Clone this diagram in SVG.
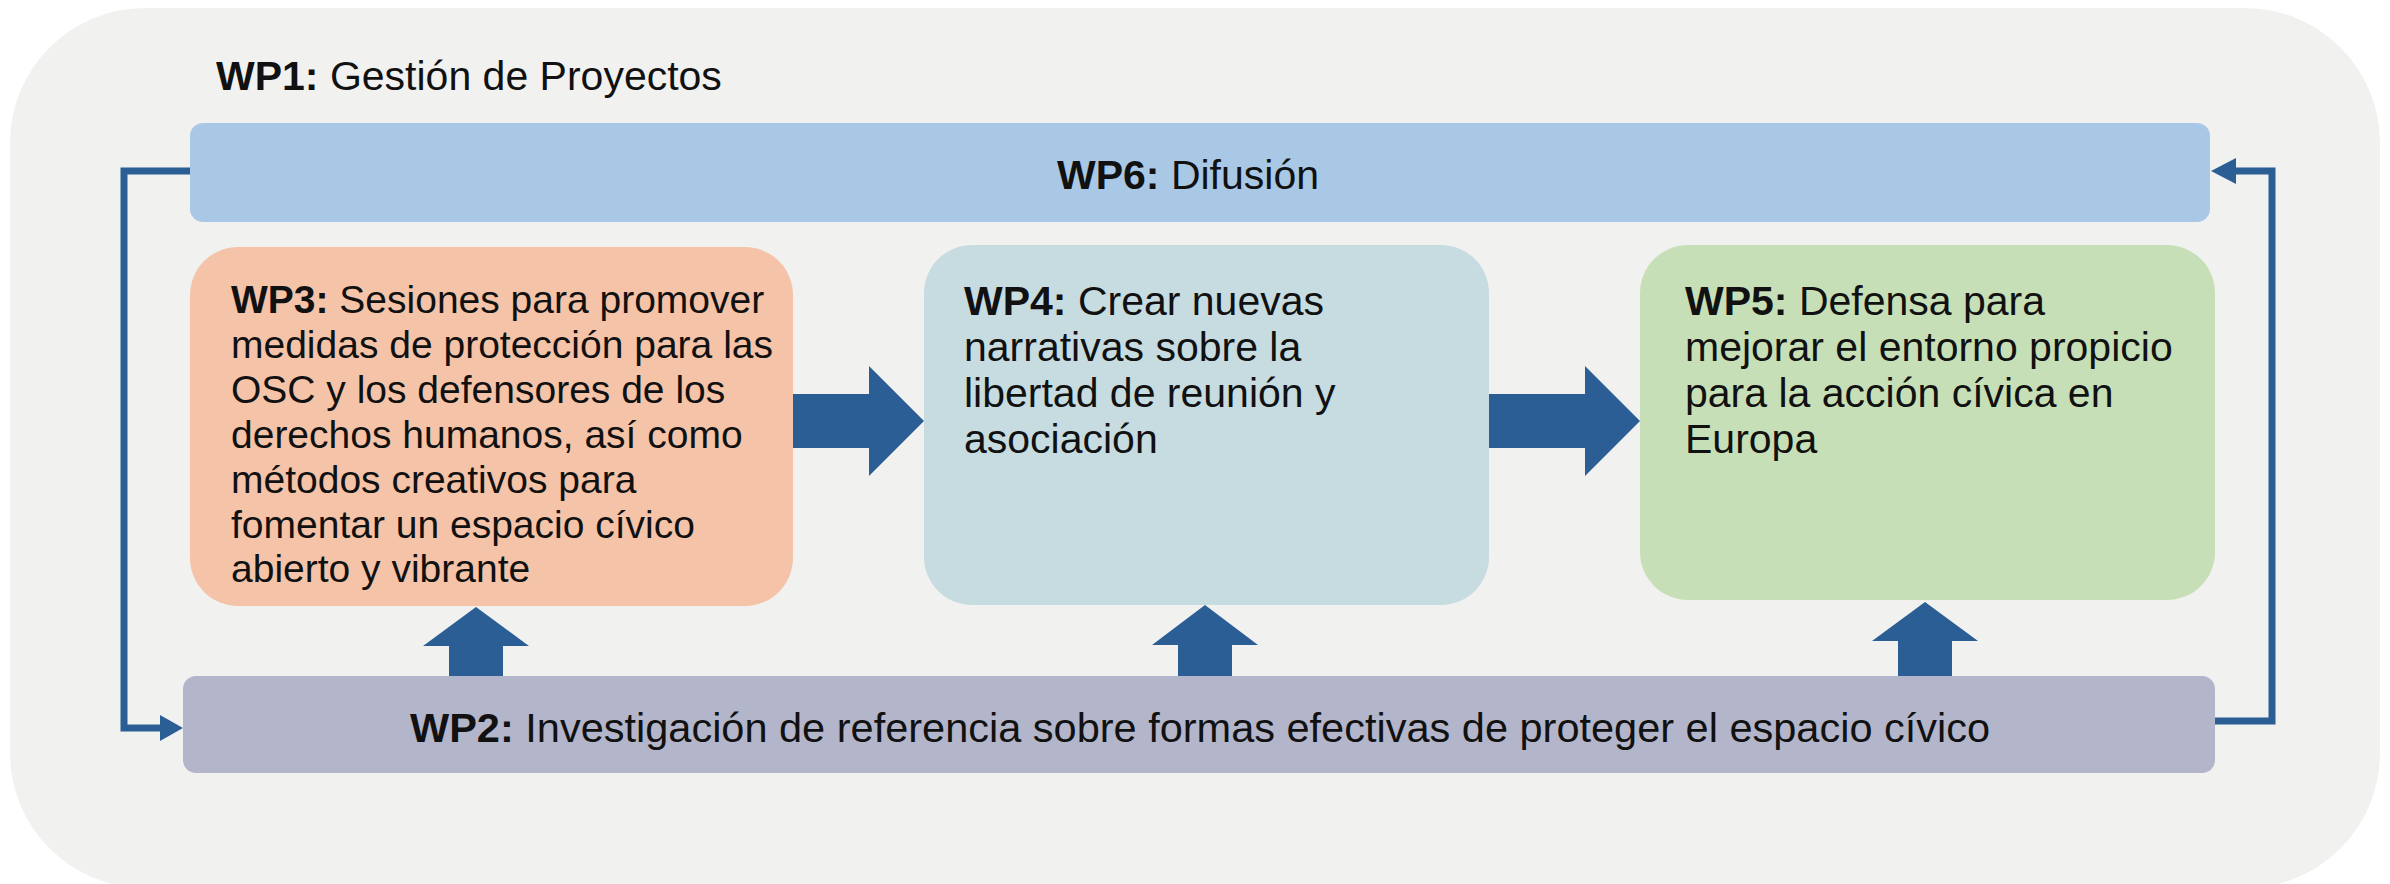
<svg xmlns="http://www.w3.org/2000/svg" width="2390" height="884" viewBox="0 0 2390 884">
  <style>
    text { font-family: "Liberation Sans", Arial, sans-serif; fill: #111; }
    .t41 { font-size: 41px; }
    .t42 { font-size: 41.5px; }
    .t39 { font-size: 39px; }
    .b { font-weight: bold; }
    .big { fill: #2B5E95; }
    .conn { fill: none; stroke: #2B5E95; stroke-width: 7; }
    .head { fill: #2B5E95; }
  </style>
  <rect x="0" y="0" width="2390" height="884" fill="#FFFFFF"/>
  <g id="wp1">
    <rect x="10" y="8" width="2370" height="880" rx="135" ry="135" fill="#F1F1F0"/>
    <text class="t41" x="216" y="90"><tspan class="b">WP1:</tspan> Gestión de Proyectos</text>
  </g>
  <g id="connectors">
    <path class="conn" d="M191,171 H124 V728 H164"/>
    <polygon class="head" points="183,728 160,715 160,741"/>
    <path class="conn" d="M2215,721 H2272 V171 H2232"/>
    <polygon class="head" points="2211,171 2236,158 2236,184"/>
    <polygon class="big" points="793,394 869,394 869,366 924,421 869,476 869,448 793,448"/>
    <polygon class="big" points="1489,394 1585,394 1585,366 1640,421 1585,476 1585,448 1489,448"/>
    <polygon class="big" points="449,676 449,646 423,646 476,607 529,646 503,646 503,676"/>
    <polygon class="big" points="1178,676 1178,645 1152,645 1205,605 1258,645 1232,645 1232,676"/>
    <polygon class="big" points="1898,676 1898,641 1872,641 1925,602 1978,641 1952,641 1952,676"/>
  </g>
  <g id="wp6">
    <rect x="190" y="123" width="2020" height="99" rx="13" fill="#A9C8E6"/>
    <text class="t41" x="1057" y="189"><tspan class="b">WP6:</tspan> Difusión</text>
  </g>
  <g id="wp3">
    <rect x="190" y="247" width="603" height="359" rx="48" fill="#F5C3A8"/>
    <text class="t39" x="231">
      <tspan x="231" y="313"><tspan class="b">WP3:</tspan> Sesiones para promover</tspan>
      <tspan x="231" y="358">medidas de protección para las</tspan>
      <tspan x="231" y="403">OSC y los defensores de los</tspan>
      <tspan x="231" y="448">derechos humanos, así como</tspan>
      <tspan x="231" y="493">métodos creativos para</tspan>
      <tspan x="231" y="538">fomentar un espacio cívico</tspan>
      <tspan x="231" y="582">abierto y vibrante</tspan>
    </text>
  </g>
  <g id="wp4">
    <rect x="924" y="245" width="565" height="360" rx="48" fill="#C6DCE0"/>
    <text class="t41">
      <tspan x="964" y="315"><tspan class="b">WP4:</tspan> Crear nuevas</tspan>
      <tspan x="964" y="361">narrativas sobre la</tspan>
      <tspan x="964" y="407">libertad de reunión y</tspan>
      <tspan x="964" y="453">asociación</tspan>
    </text>
  </g>
  <g id="wp5">
    <rect x="1640" y="245" width="575" height="355" rx="48" fill="#C7DFB6"/>
    <text class="t41">
      <tspan x="1685" y="315"><tspan class="b">WP5:</tspan> Defensa para</tspan>
      <tspan x="1685" y="361">mejorar el entorno propicio</tspan>
      <tspan x="1685" y="407">para la acción cívica en</tspan>
      <tspan x="1685" y="453">Europa</tspan>
    </text>
  </g>
  <g id="wp2">
    <rect x="183" y="676" width="2032" height="97" rx="13" fill="#B3B5CA"/>
    <text class="t42" x="410" y="742"><tspan class="b">WP2:</tspan> Investigación de referencia sobre formas efectivas de proteger el espacio cívico</text>
  </g>
</svg>
